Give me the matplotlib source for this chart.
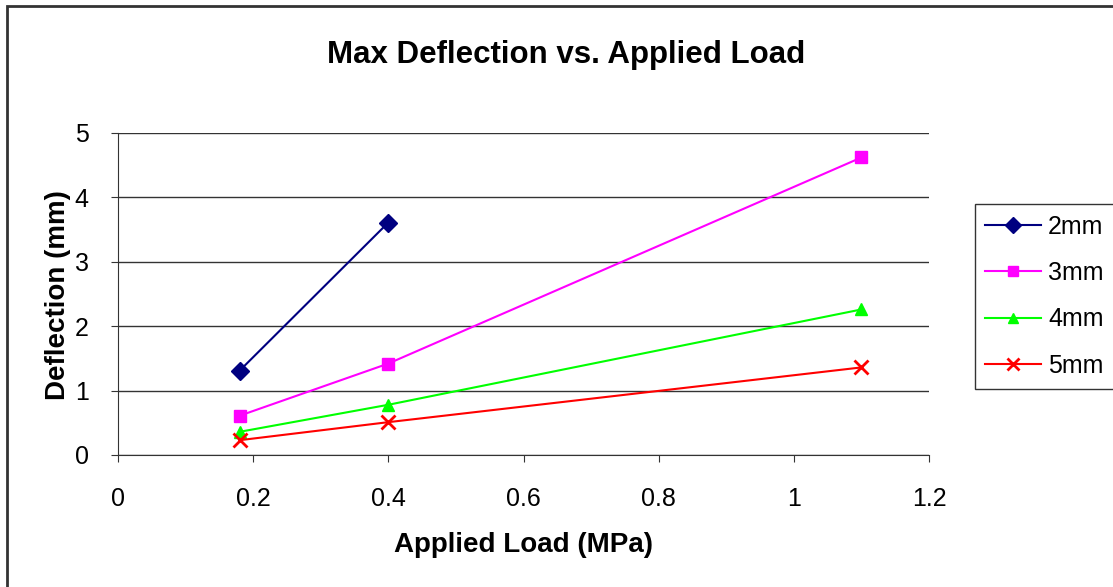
import matplotlib.pyplot as plt
from matplotlib.patches import Rectangle

plt.rcParams['font.family'] = ['Liberation Sans', 'DejaVu Sans']

load = [0.18, 0.4, 1.1]
defl_2mm = [1.31, 3.61]
defl_3mm = [0.61, 1.42, 4.62]
defl_4mm = [0.36, 0.78, 2.26]
defl_5mm = [0.23, 0.51, 1.36]
labels = ["2mm", "3mm", "4mm", "5mm"]
colors = ["#000080", "#FF00FF", "#00FF00", "#FF0000"]
markers = ["D", "s", "^", "x"]

W, H = 1113, 587
fig = plt.figure(figsize=(W / 100, H / 100), dpi=100)
ax = fig.add_axes([118 / W, 1 - 455 / H, (929 - 118) / W, (455 - 133) / H])

# outer chart border (runs off the right and bottom edges)
fig.patches.append(Rectangle((7 / W, -0.1), 1.2, 1 - 6 / H + 0.1,
                             transform=fig.transFigure, fill=False,
                             edgecolor="#333333", linewidth=2))

series = [defl_2mm, defl_3mm, defl_4mm, defl_5mm]
for vals, label, color, m in zip(series, labels, colors, markers):
    ms = 9 if m != "x" else 10
    ax.plot(load[:len(vals)], vals, color=color, marker=m, markersize=ms,
            markeredgewidth=2 if m == "x" else 1, linewidth=1.5,
            label=label, clip_on=False)

ax.set_xlim(0, 1.2)
ax.set_ylim(0, 5)
ax.set_xticks([0, 0.2, 0.4, 0.6, 0.8, 1.0, 1.2])
ax.set_xticklabels(["0", "0.2", "0.4", "0.6", "0.8", "1", "1.2"])
ax.set_yticks(range(6))
ax.yaxis.grid(True, color="#333333", linewidth=1)
ax.set_axisbelow(True)
for s in ["top", "right"]:
    ax.spines[s].set_visible(False)
ax.spines["left"].set_color("#333333")
ax.spines["bottom"].set_color("#333333")
ax.tick_params(labelsize=18, length=5, color="#333333")
ax.tick_params(axis="x", pad=18)
ax.tick_params(axis="y", pad=16)

ax.set_xlabel("Applied Load (MPa)", fontsize=20, fontweight="bold", va="center")
ax.xaxis.set_label_coords(0.5, -(545 - 455) / 322)
ax.set_ylabel("Deflection (mm)", fontsize=20, fontweight="bold", va="center")
ax.yaxis.set_label_coords(-(118 - 58) / 811, (455 - 295) / 322)
fig.text(566 / W, 1 - 63 / H, "Max Deflection vs. Applied Load",
         fontsize=22.5, fontweight="bold", ha="center", va="baseline")

leg = fig.legend(loc="upper left", bbox_to_anchor=(975 / W, 1 - 204 / H),
                 fontsize=18, frameon=True, fancybox=False, edgecolor="black",
                 borderpad=0.42, labelspacing=0.9, handlelength=2.2,
                 handletextpad=0.3, borderaxespad=0, markerscale=0.85)
leg.get_frame().set_linewidth(1)

fig.savefig("out.png", dpi=100)
